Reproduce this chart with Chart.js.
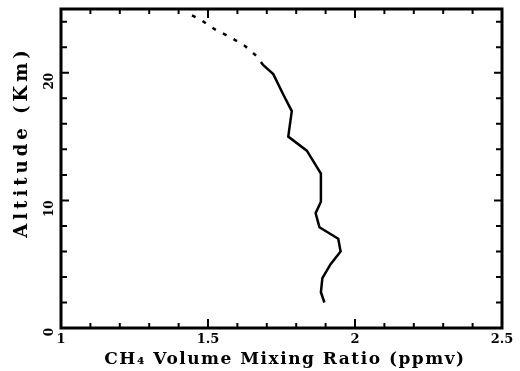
<!DOCTYPE html>
<html>
<head>
<meta charset="utf-8">
<script src="https://cdn.jsdelivr.net/npm/chart.js@4/dist/chart.umd.min.js"></script>
<style>
  html, body { margin: 0; padding: 0; background: #fff; }
</style>
</head>
<body>
<canvas id="ch4Chart" width="520" height="371"></canvas>
<script>
// CH4 profile (ppmv vs km)
const solidRatio = [1.896, 1.884, 1.889, 1.917, 1.951, 1.943, 1.879, 1.866, 1.884, 1.884, 1.836, 1.773, 1.785, 1.756, 1.722, 1.688];
const solidAltitude = [2.0, 2.8, 3.9, 5.0, 6.0, 7.0, 7.9, 9.0, 9.9, 12.1, 13.9, 15.0, 17.0, 18.3, 19.9, 20.6];
const dashedRatio = [1.688, 1.666, 1.626, 1.575, 1.524, 1.473, 1.428];
const dashedAltitude = [20.6, 21.3, 22.1, 22.8, 23.4, 24.2, 24.7];

const xTickLabels = [1, 1.5, 2, 2.5];
const yTickLabels = [0, 10, 20];

const FONT = "'DejaVu Serif', 'Liberation Serif', serif";

const toPoints = (xs, ys) => xs.map((x, i) => ({ x: x, y: ys[i] }));

// box with inward ticks on all four sides
const frameTicks = {
  id: "frameTicks",
  afterDraw: (chart) => {
    const ctx = chart.ctx;
    const a = chart.chartArea;
    const xs = chart.scales.x;
    const ys = chart.scales.y;
    ctx.save();
    ctx.strokeStyle = "#000";
    ctx.lineWidth = 3;
    ctx.strokeRect(a.left, a.top, a.right - a.left, a.bottom - a.top);

    ctx.lineWidth = 2;
    ctx.beginPath();
    for (let i = 0; i <= 15; i++) {
      const v = 1 + i * 0.1;
      const px = xs.getPixelForValue(v);
      const len = i % 5 === 0 ? 9 : 5;
      ctx.moveTo(px, a.bottom);
      ctx.lineTo(px, a.bottom - len);
      ctx.moveTo(px, a.top);
      ctx.lineTo(px, a.top + len);
    }
    for (let v = 0; v <= 24; v += 2) {
      const py = ys.getPixelForValue(v);
      const len = v % 10 === 0 ? 8 : 6;
      ctx.moveTo(a.left, py);
      ctx.lineTo(a.left + len, py);
      ctx.moveTo(a.right, py);
      ctx.lineTo(a.right - len, py);
    }
    ctx.stroke();
    ctx.restore();
  },
};

// spaced-out axis titles like the scanned figure
const axisTitles = {
  id: "axisTitles",
  afterDraw: (chart) => {
    const ctx = chart.ctx;
    ctx.save();
    ctx.fillStyle = "#000";
    ctx.textAlign = "center";
    ctx.textBaseline = "middle";
    ctx.font = "bold 17px " + FONT;
    ctx.letterSpacing = "1.5px";
    ctx.fillText("CH\u2084 Volume Mixing Ratio (ppmv)", 285, 360);
    ctx.translate(22, 142);
    ctx.rotate(-Math.PI / 2);
    ctx.font = "bold 18px " + FONT;
    ctx.letterSpacing = "4px";
    ctx.fillText("Altitude (Km)", 0, 0);
    ctx.restore();
  },
};

new Chart(document.getElementById("ch4Chart"), {
  type: "scatter",
  data: {
    datasets: [
      {
        data: toPoints(solidRatio, solidAltitude),
        showLine: true,
        borderColor: "#000",
        borderWidth: 2.5,
        pointRadius: 0,
        tension: 0,
      },
      {
        data: toPoints(dashedRatio, dashedAltitude),
        showLine: true,
        borderColor: "#000",
        borderWidth: 2.5,
        borderDash: [4, 8],
        pointRadius: 0,
        tension: 0,
      },
    ],
  },
  options: {
    responsive: false,
    animation: false,
    layout: { padding: { top: 9, right: 18, left: 0, bottom: 0 } },
    plugins: {
      legend: { display: false },
      tooltip: { enabled: false },
    },
    scales: {
      x: {
        type: "linear",
        min: 1,
        max: 2.5,
        afterBuildTicks: (scale) => {
          scale.ticks = xTickLabels.map((v) => ({ value: v }));
        },
        afterFit: (scale) => {
          scale.height = 43;
          scale.paddingLeft = 0;
          scale.paddingRight = 0;
        },
        ticks: {
          color: "#000",
          font: { family: FONT, size: 13, weight: "bold" },
          padding: 4,
          maxRotation: 0,
          autoSkip: false,
          callback: (v) => String(v),
        },
        grid: { display: false, drawTicks: false },
        border: { display: false },
      },
      y: {
        type: "linear",
        min: 0,
        max: 25,
        afterBuildTicks: (scale) => {
          scale.ticks = yTickLabels.map((v) => ({ value: v }));
        },
        afterFit: (scale) => {
          scale.width = 61;
          scale.paddingTop = 0;
          scale.paddingBottom = 0;
        },
        ticks: {
          color: "#000",
          font: { family: FONT, size: 12, weight: "bold" },
          padding: 11,
          minRotation: 90,
          maxRotation: 90,
          autoSkip: false,
          callback: (v) => String(v),
        },
        grid: { display: false, drawTicks: false },
        border: { display: false },
      },
    },
  },
  plugins: [frameTicks, axisTitles],
});
</script>
</body>
</html>
